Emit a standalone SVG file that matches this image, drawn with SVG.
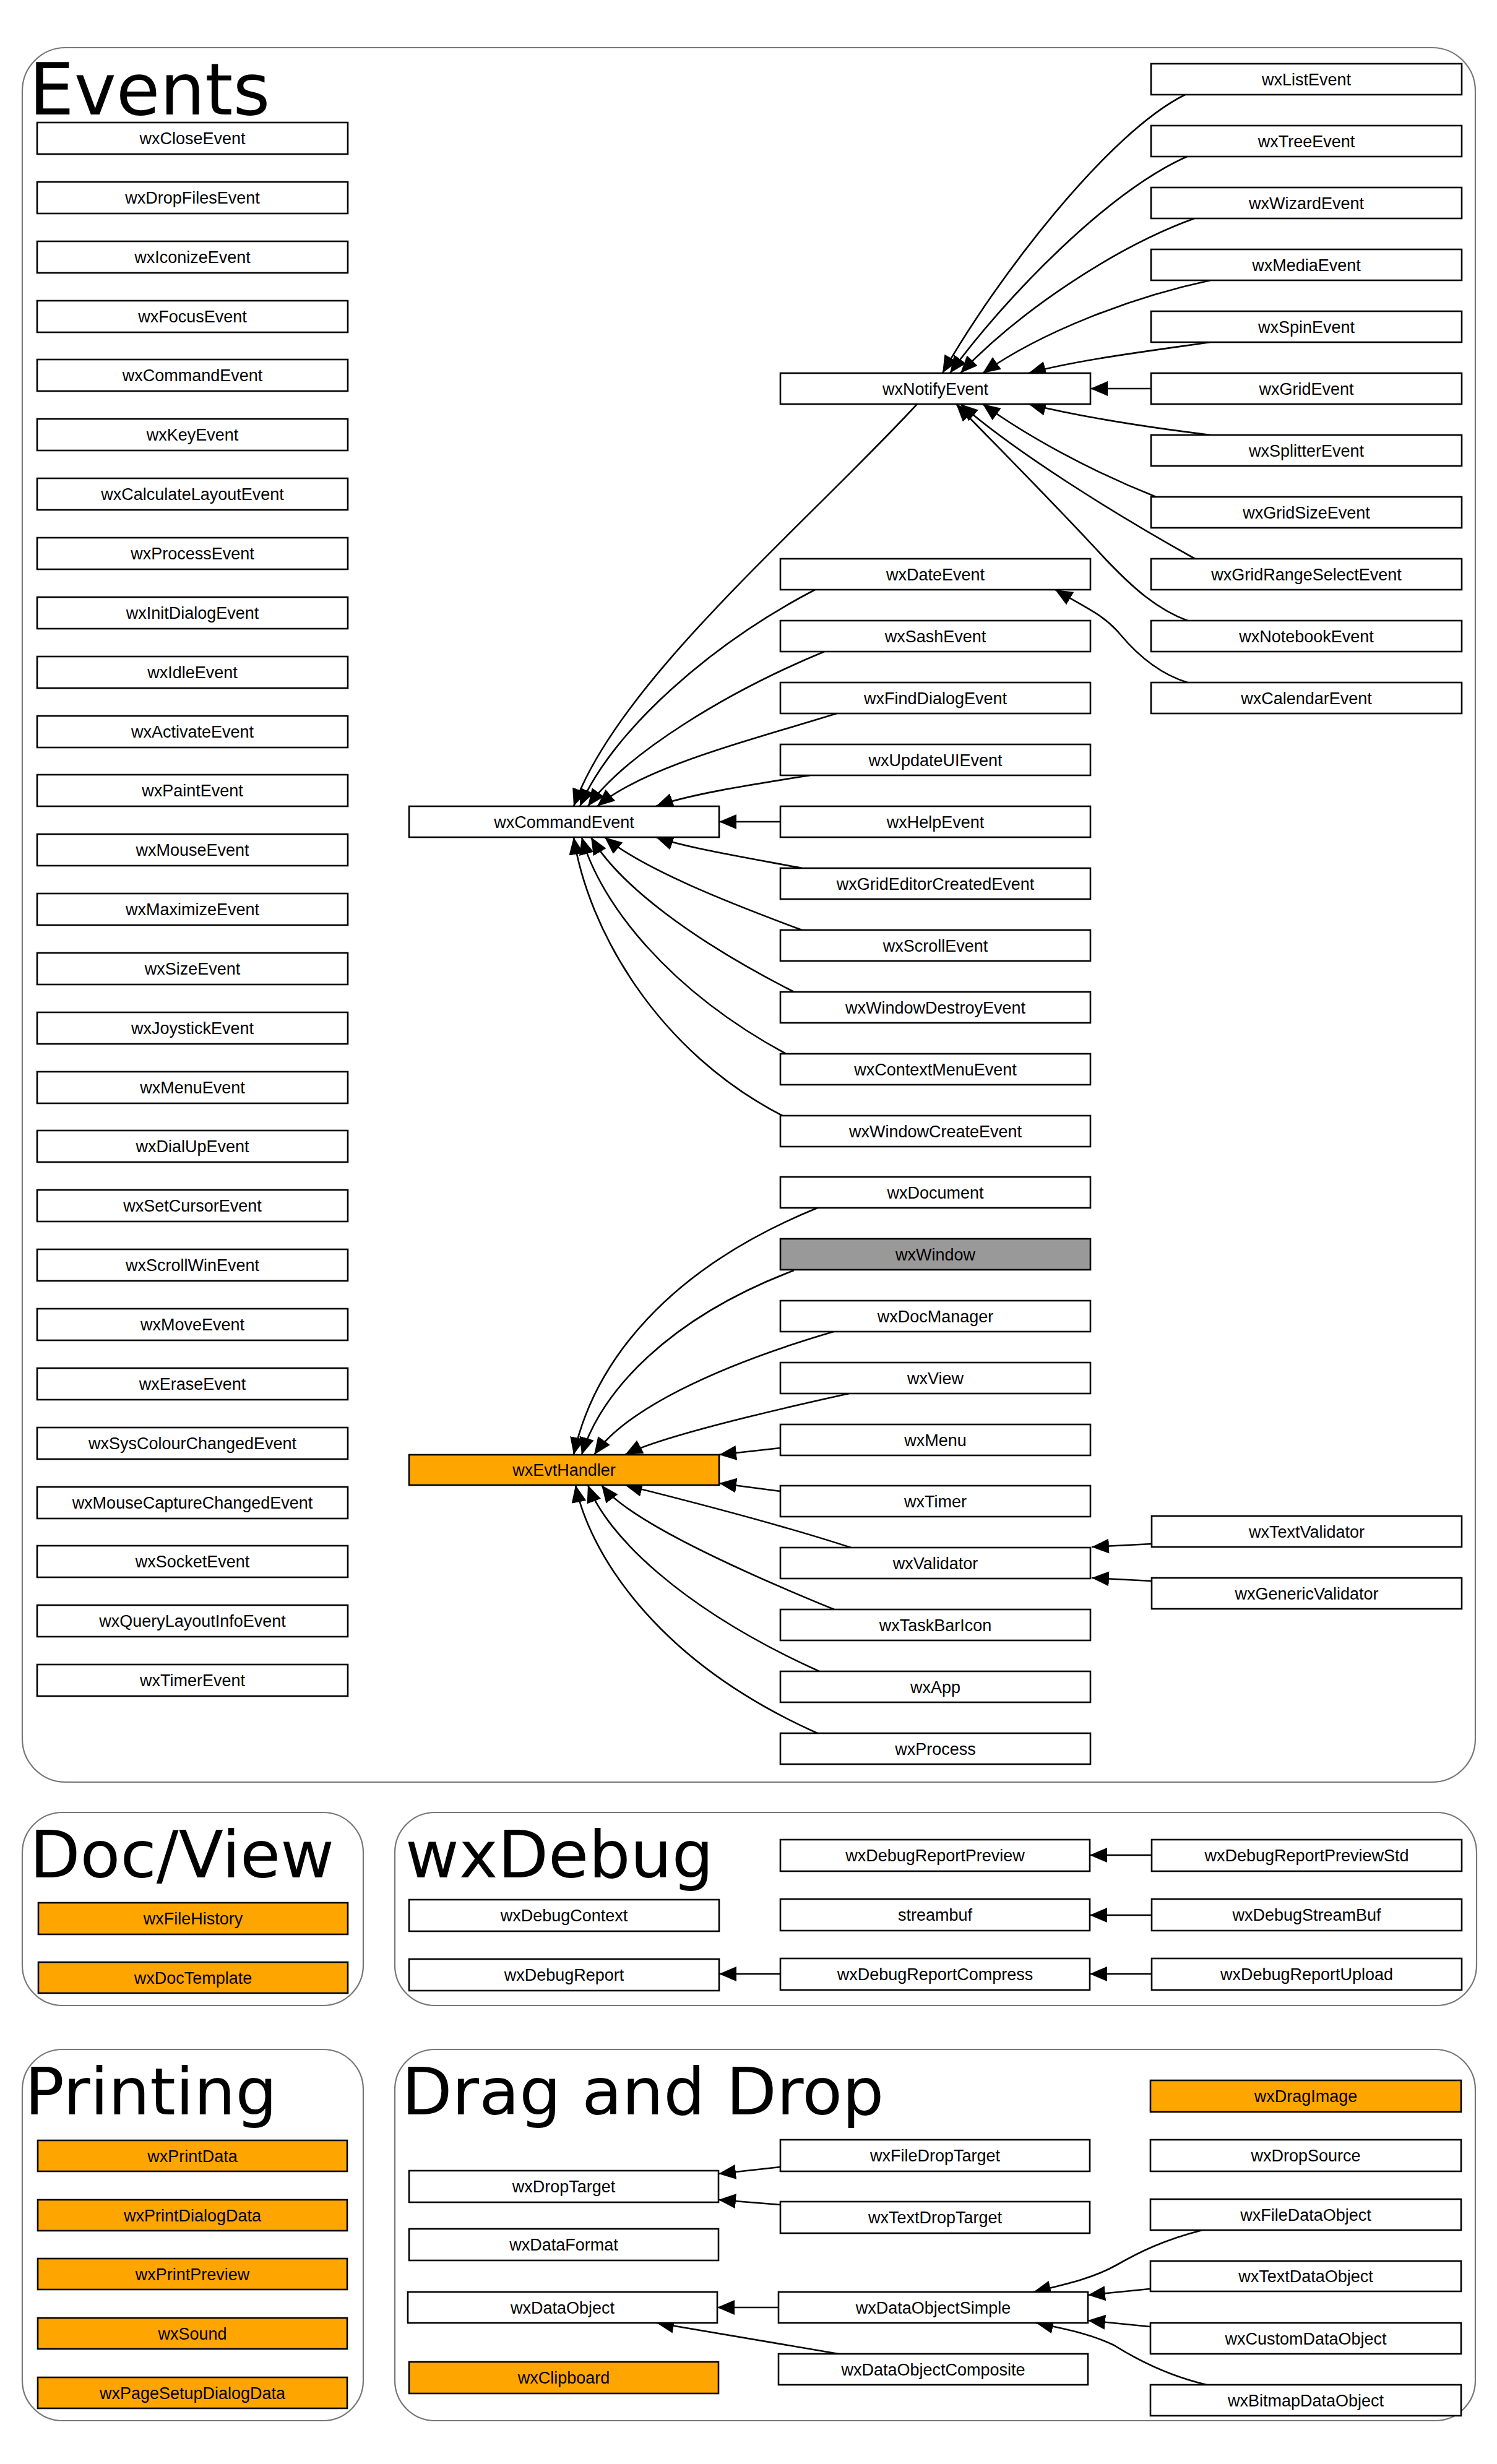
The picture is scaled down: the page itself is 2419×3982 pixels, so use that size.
<svg xmlns="http://www.w3.org/2000/svg" width="2419" height="3982" viewBox="0 0 2419 3982">
<style>
.bg{fill:#fff}
.panel{fill:#fff;stroke:#777;stroke-width:2.2}
.title{font-family:"DejaVu Sans",Verdana,sans-serif;font-size:106px;fill:#000}
.n rect{fill:#fff;stroke:#000;stroke-width:2.6}
.n.o rect{fill:#ffa500}
.n.g rect{fill:#999}
.n text{font-family:"Liberation Sans",Arial,Helvetica,sans-serif;font-size:27px;text-anchor:middle;fill:#000}
#edges path{fill:none;stroke:#000;stroke-width:2.6;marker-end:url(#ah)}
</style>
<defs>
<marker id="ah" markerUnits="userSpaceOnUse" markerWidth="30" markerHeight="26" refX="28" refY="12" orient="auto">
<path d="M0,0 L28,12 L0,24 z" fill="#000"/>
</marker>
</defs>
<rect class="bg" x="0" y="0" width="2419" height="3982"/>

<g id="panels">
<rect class="panel" x="36" y="77" width="2348" height="2803" rx="70" ry="70"/>
<rect class="panel" x="36" y="2929" width="551" height="312" rx="65" ry="65"/>
<rect class="panel" x="638" y="2929" width="1748" height="312" rx="65" ry="65"/>
<rect class="panel" x="36" y="3312" width="551" height="600" rx="65" ry="65"/>
<rect class="panel" x="638" y="3312" width="1746" height="600" rx="65" ry="65"/>
<text class="title" x="47" y="185" style="font-size:115px">Events</text>
<text class="title" x="48" y="3034">Doc/View</text>
<text class="title" x="655" y="3034">wxDebug</text>
<text class="title" x="40" y="3417">Printing</text>
<text class="title" x="649" y="3417">Drag and Drop</text>
</g>

<g id="edges">
<path d="M1915,153 C1790,215 1610,450 1523,603"/>
<path d="M1918,253 C1790,310 1625,480 1535,603"/>
<path d="M1930,353 C1800,400 1645,505 1552,603"/>
<path d="M1956,453 C1830,480 1685,535 1588,603"/>
<path d="M1956,553 C1850,568 1740,582 1662,603"/>
<path d="M1860,628 L1762,628"/>
<path d="M1956,703 C1850,690 1740,672 1662,653"/>
<path d="M1868,803 C1760,760 1660,705 1588,653"/>
<path d="M1931,903 C1800,830 1640,730 1552,653"/>
<path d="M1919,1003 C1870,985 1830,950 1783,900 C1700,810 1610,720 1545,653"/>
<path d="M1919,1103 C1870,1088 1835,1055 1810,1025 C1785,995 1760,985 1705,953"/>
<path d="M1482,653 C1300,850 1000,1100 927,1303"/>
<path d="M1317,953 C1150,1040 990,1180 937,1303"/>
<path d="M1332,1053 C1170,1120 1010,1220 950,1303"/>
<path d="M1352,1153 C1200,1200 1040,1240 965,1303"/>
<path d="M1309,1253 C1200,1270 1110,1285 1060,1303"/>
<path d="M1261,1328 L1162,1328"/>
<path d="M1296,1403 C1200,1385 1110,1370 1060,1353"/>
<path d="M1296,1503 C1180,1460 1040,1405 977,1353"/>
<path d="M1283,1603 C1120,1520 1000,1430 955,1353"/>
<path d="M1270,1703 C1080,1600 970,1460 940,1353"/>
<path d="M1270,1806 C1060,1700 950,1500 927,1353"/>
<path d="M1321,1952 C1080,2050 960,2200 927,2351"/>
<path d="M1283,2053 C1080,2130 970,2250 940,2351"/>
<path d="M1347,2152 C1150,2210 1010,2280 960,2351"/>
<path d="M1372,2252 C1200,2290 1060,2325 1010,2351"/>
<path d="M1261,2340 L1162,2351"/>
<path d="M1261,2410 L1162,2397"/>
<path d="M1375,2501 C1250,2460 1090,2420 1010,2400"/>
<path d="M1348,2601 C1150,2520 1010,2450 972,2400"/>
<path d="M1324,2701 C1100,2600 980,2480 950,2400"/>
<path d="M1321,2801 C1050,2680 950,2500 930,2400"/>
<path d="M1861,2495 L1764,2500"/>
<path d="M1861,2555 L1764,2550"/>
<path d="M1861,2998 L1761,2998"/>
<path d="M1861,3095 L1761,3095"/>
<path d="M1861,3190 L1761,3190"/>
<path d="M1261,3190 L1162,3190"/>
<path d="M1261,3502 L1161,3513"/>
<path d="M1261,3563 L1161,3555"/>
<path d="M1258,3729 L1159,3729"/>
<path d="M1355,3804 L1061,3754"/>
<path d="M1943,3604 C1880,3620 1840,3640 1805,3660 C1770,3680 1730,3690 1670,3704"/>
<path d="M1858,3699 L1758,3709"/>
<path d="M1858,3760 L1758,3750"/>
<path d="M1950,3854 C1890,3840 1840,3815 1800,3790 C1770,3775 1730,3765 1674,3754"/>
</g>

<g id="wxCloseEvent" class="n"><rect x="60" y="198" width="502" height="51"/><text x="311" y="233">wxCloseEvent</text></g>
<g id="wxDropFilesEvent" class="n"><rect x="60" y="294" width="502" height="51"/><text x="311" y="329">wxDropFilesEvent</text></g>
<g id="wxIconizeEvent" class="n"><rect x="60" y="390" width="502" height="51"/><text x="311" y="425">wxIconizeEvent</text></g>
<g id="wxFocusEvent" class="n"><rect x="60" y="486" width="502" height="51"/><text x="311" y="521">wxFocusEvent</text></g>
<g id="wxCommandEvent_l" class="n"><rect x="60" y="581" width="502" height="51"/><text x="311" y="616">wxCommandEvent</text></g>
<g id="wxKeyEvent" class="n"><rect x="60" y="677" width="502" height="51"/><text x="311" y="712">wxKeyEvent</text></g>
<g id="wxCalculateLayoutEvent" class="n"><rect x="60" y="773" width="502" height="51"/><text x="311" y="808">wxCalculateLayoutEvent</text></g>
<g id="wxProcessEvent" class="n"><rect x="60" y="869" width="502" height="51"/><text x="311" y="904">wxProcessEvent</text></g>
<g id="wxInitDialogEvent" class="n"><rect x="60" y="965" width="502" height="51"/><text x="311" y="1000">wxInitDialogEvent</text></g>
<g id="wxIdleEvent" class="n"><rect x="60" y="1061" width="502" height="51"/><text x="311" y="1096">wxIdleEvent</text></g>
<g id="wxActivateEvent" class="n"><rect x="60" y="1157" width="502" height="51"/><text x="311" y="1192">wxActivateEvent</text></g>
<g id="wxPaintEvent" class="n"><rect x="60" y="1252" width="502" height="51"/><text x="311" y="1287">wxPaintEvent</text></g>
<g id="wxMouseEvent" class="n"><rect x="60" y="1348" width="502" height="51"/><text x="311" y="1383">wxMouseEvent</text></g>
<g id="wxMaximizeEvent" class="n"><rect x="60" y="1444" width="502" height="51"/><text x="311" y="1479">wxMaximizeEvent</text></g>
<g id="wxSizeEvent" class="n"><rect x="60" y="1540" width="502" height="51"/><text x="311" y="1575">wxSizeEvent</text></g>
<g id="wxJoystickEvent" class="n"><rect x="60" y="1636" width="502" height="51"/><text x="311" y="1671">wxJoystickEvent</text></g>
<g id="wxMenuEvent" class="n"><rect x="60" y="1732" width="502" height="51"/><text x="311" y="1767">wxMenuEvent</text></g>
<g id="wxDialUpEvent" class="n"><rect x="60" y="1827" width="502" height="51"/><text x="311" y="1862">wxDialUpEvent</text></g>
<g id="wxSetCursorEvent" class="n"><rect x="60" y="1923" width="502" height="51"/><text x="311" y="1958">wxSetCursorEvent</text></g>
<g id="wxScrollWinEvent" class="n"><rect x="60" y="2019" width="502" height="51"/><text x="311" y="2054">wxScrollWinEvent</text></g>
<g id="wxMoveEvent" class="n"><rect x="60" y="2115" width="502" height="51"/><text x="311" y="2150">wxMoveEvent</text></g>
<g id="wxEraseEvent" class="n"><rect x="60" y="2211" width="502" height="51"/><text x="311" y="2246">wxEraseEvent</text></g>
<g id="wxSysColourChangedEvent" class="n"><rect x="60" y="2307" width="502" height="51"/><text x="311" y="2342">wxSysColourChangedEvent</text></g>
<g id="wxMouseCaptureChangedEvent" class="n"><rect x="60" y="2403" width="502" height="51"/><text x="311" y="2438">wxMouseCaptureChangedEvent</text></g>
<g id="wxSocketEvent" class="n"><rect x="60" y="2498" width="502" height="51"/><text x="311" y="2533">wxSocketEvent</text></g>
<g id="wxQueryLayoutInfoEvent" class="n"><rect x="60" y="2594" width="502" height="51"/><text x="311" y="2629">wxQueryLayoutInfoEvent</text></g>
<g id="wxTimerEvent" class="n"><rect x="60" y="2690" width="502" height="51"/><text x="311" y="2725">wxTimerEvent</text></g>

<g id="wxCommandEvent" class="n"><rect x="661" y="1303" width="501" height="50"/><text x="911.5" y="1337.5">wxCommandEvent</text></g>
<g id="wxEvtHandler" class="n o"><rect x="661" y="2351" width="501" height="49"/><text x="911.5" y="2385">wxEvtHandler</text></g>

<g id="wxNotifyEvent" class="n"><rect x="1261" y="603" width="501" height="50"/><text x="1511.5" y="637.5">wxNotifyEvent</text></g>
<g id="wxDateEvent" class="n"><rect x="1261" y="903" width="501" height="50"/><text x="1511.5" y="937.5">wxDateEvent</text></g>
<g id="wxSashEvent" class="n"><rect x="1261" y="1003" width="501" height="50"/><text x="1511.5" y="1037.5">wxSashEvent</text></g>
<g id="wxFindDialogEvent" class="n"><rect x="1261" y="1103" width="501" height="50"/><text x="1511.5" y="1137.5">wxFindDialogEvent</text></g>
<g id="wxUpdateUIEvent" class="n"><rect x="1261" y="1203" width="501" height="50"/><text x="1511.5" y="1237.5">wxUpdateUIEvent</text></g>
<g id="wxHelpEvent" class="n"><rect x="1261" y="1303" width="501" height="50"/><text x="1511.5" y="1337.5">wxHelpEvent</text></g>
<g id="wxGridEditorCreatedEvent" class="n"><rect x="1261" y="1403" width="501" height="50"/><text x="1511.5" y="1437.5">wxGridEditorCreatedEvent</text></g>
<g id="wxScrollEvent" class="n"><rect x="1261" y="1503" width="501" height="50"/><text x="1511.5" y="1537.5">wxScrollEvent</text></g>
<g id="wxWindowDestroyEvent" class="n"><rect x="1261" y="1603" width="501" height="50"/><text x="1511.5" y="1637.5">wxWindowDestroyEvent</text></g>
<g id="wxContextMenuEvent" class="n"><rect x="1261" y="1703" width="501" height="50"/><text x="1511.5" y="1737.5">wxContextMenuEvent</text></g>
<g id="wxWindowCreateEvent" class="n"><rect x="1261" y="1803" width="501" height="50"/><text x="1511.5" y="1837.5">wxWindowCreateEvent</text></g>
<g id="wxDocument" class="n"><rect x="1261" y="1902" width="501" height="50"/><text x="1511.5" y="1936.5">wxDocument</text></g>
<g id="wxWindow" class="n g"><rect x="1261" y="2002" width="501" height="50"/><text x="1511.5" y="2036.5">wxWindow</text></g>
<g id="wxDocManager" class="n"><rect x="1261" y="2102" width="501" height="50"/><text x="1511.5" y="2136.5">wxDocManager</text></g>
<g id="wxView" class="n"><rect x="1261" y="2202" width="501" height="50"/><text x="1511.5" y="2236.5">wxView</text></g>
<g id="wxMenu" class="n"><rect x="1261" y="2302" width="501" height="50"/><text x="1511.5" y="2336.5">wxMenu</text></g>
<g id="wxTimer" class="n"><rect x="1261" y="2401" width="501" height="50"/><text x="1511.5" y="2435.5">wxTimer</text></g>
<g id="wxValidator" class="n"><rect x="1261" y="2501" width="501" height="50"/><text x="1511.5" y="2535.5">wxValidator</text></g>
<g id="wxTaskBarIcon" class="n"><rect x="1261" y="2601" width="501" height="50"/><text x="1511.5" y="2635.5">wxTaskBarIcon</text></g>
<g id="wxApp" class="n"><rect x="1261" y="2701" width="501" height="50"/><text x="1511.5" y="2735.5">wxApp</text></g>
<g id="wxProcess" class="n"><rect x="1261" y="2801" width="501" height="50"/><text x="1511.5" y="2835.5">wxProcess</text></g>

<g id="wxListEvent" class="n"><rect x="1860" y="103" width="502" height="50"/><text x="2111" y="137.5">wxListEvent</text></g>
<g id="wxTreeEvent" class="n"><rect x="1860" y="203" width="502" height="50"/><text x="2111" y="237.5">wxTreeEvent</text></g>
<g id="wxWizardEvent" class="n"><rect x="1860" y="303" width="502" height="50"/><text x="2111" y="337.5">wxWizardEvent</text></g>
<g id="wxMediaEvent" class="n"><rect x="1860" y="403" width="502" height="50"/><text x="2111" y="437.5">wxMediaEvent</text></g>
<g id="wxSpinEvent" class="n"><rect x="1860" y="503" width="502" height="50"/><text x="2111" y="537.5">wxSpinEvent</text></g>
<g id="wxGridEvent" class="n"><rect x="1860" y="603" width="502" height="50"/><text x="2111" y="637.5">wxGridEvent</text></g>
<g id="wxSplitterEvent" class="n"><rect x="1860" y="703" width="502" height="50"/><text x="2111" y="737.5">wxSplitterEvent</text></g>
<g id="wxGridSizeEvent" class="n"><rect x="1860" y="803" width="502" height="50"/><text x="2111" y="837.5">wxGridSizeEvent</text></g>
<g id="wxGridRangeSelectEvent" class="n"><rect x="1860" y="903" width="502" height="50"/><text x="2111" y="937.5">wxGridRangeSelectEvent</text></g>
<g id="wxNotebookEvent" class="n"><rect x="1860" y="1003" width="502" height="50"/><text x="2111" y="1037.5">wxNotebookEvent</text></g>
<g id="wxCalendarEvent" class="n"><rect x="1860" y="1103" width="502" height="50"/><text x="2111" y="1137.5">wxCalendarEvent</text></g>
<g id="wxTextValidator" class="n"><rect x="1861" y="2450" width="501" height="50"/><text x="2111.5" y="2484.5">wxTextValidator</text></g>
<g id="wxGenericValidator" class="n"><rect x="1861" y="2550" width="501" height="50"/><text x="2111.5" y="2584.5">wxGenericValidator</text></g>

<g id="wxFileHistory" class="n o"><rect x="62" y="3075" width="500" height="51"/><text x="312" y="3110">wxFileHistory</text></g>
<g id="wxDocTemplate" class="n o"><rect x="62" y="3171" width="500" height="50"/><text x="312" y="3205.5">wxDocTemplate</text></g>

<g id="wxDebugContext" class="n"><rect x="661" y="3070" width="501" height="51"/><text x="911.5" y="3105">wxDebugContext</text></g>
<g id="wxDebugReport" class="n"><rect x="661" y="3166" width="501" height="51"/><text x="911.5" y="3201">wxDebugReport</text></g>
<g id="wxDebugReportPreview" class="n"><rect x="1261" y="2973" width="500" height="51"/><text x="1511" y="3008">wxDebugReportPreview</text></g>
<g id="streambuf" class="n"><rect x="1261" y="3069" width="500" height="51"/><text x="1511" y="3104">streambuf</text></g>
<g id="wxDebugReportCompress" class="n"><rect x="1261" y="3165" width="500" height="51"/><text x="1511" y="3200">wxDebugReportCompress</text></g>
<g id="wxDebugReportPreviewStd" class="n"><rect x="1861" y="2973" width="501" height="51"/><text x="2111.5" y="3008">wxDebugReportPreviewStd</text></g>
<g id="wxDebugStreamBuf" class="n"><rect x="1861" y="3069" width="501" height="51"/><text x="2111.5" y="3104">wxDebugStreamBuf</text></g>
<g id="wxDebugReportUpload" class="n"><rect x="1861" y="3165" width="501" height="51"/><text x="2111.5" y="3200">wxDebugReportUpload</text></g>

<g id="wxPrintData" class="n o"><rect x="61" y="3459" width="500" height="50"/><text x="311" y="3493.5">wxPrintData</text></g>
<g id="wxPrintDialogData" class="n o"><rect x="61" y="3555" width="500" height="50"/><text x="311" y="3589.5">wxPrintDialogData</text></g>
<g id="wxPrintPreview" class="n o"><rect x="61" y="3650" width="500" height="50"/><text x="311" y="3684.5">wxPrintPreview</text></g>
<g id="wxSound" class="n o"><rect x="61" y="3746" width="500" height="50"/><text x="311" y="3780.5">wxSound</text></g>
<g id="wxPageSetupDialogData" class="n o"><rect x="61" y="3842" width="500" height="50"/><text x="311" y="3876.5">wxPageSetupDialogData</text></g>

<g id="wxDropTarget" class="n"><rect x="661" y="3508" width="500" height="51"/><text x="911" y="3543">wxDropTarget</text></g>
<g id="wxDataFormat" class="n"><rect x="661" y="3602" width="500" height="51"/><text x="911" y="3637">wxDataFormat</text></g>
<g id="wxDataObject" class="n"><rect x="659" y="3704" width="500" height="50"/><text x="909" y="3738.5">wxDataObject</text></g>
<g id="wxClipboard" class="n o"><rect x="661" y="3817" width="500" height="51"/><text x="911" y="3852">wxClipboard</text></g>
<g id="wxFileDropTarget" class="n"><rect x="1261" y="3458" width="500" height="51"/><text x="1511" y="3493">wxFileDropTarget</text></g>
<g id="wxTextDropTarget" class="n"><rect x="1261" y="3558" width="500" height="51"/><text x="1511" y="3593">wxTextDropTarget</text></g>
<g id="wxDataObjectSimple" class="n"><rect x="1258" y="3704" width="500" height="50"/><text x="1508" y="3738.5">wxDataObjectSimple</text></g>
<g id="wxDataObjectComposite" class="n"><rect x="1258" y="3804" width="500" height="50"/><text x="1508" y="3838.5">wxDataObjectComposite</text></g>
<g id="wxDragImage" class="n o"><rect x="1859" y="3362" width="502" height="51"/><text x="2110" y="3397">wxDragImage</text></g>
<g id="wxDropSource" class="n"><rect x="1859" y="3458" width="502" height="51"/><text x="2110" y="3493">wxDropSource</text></g>
<g id="wxFileDataObject" class="n"><rect x="1859" y="3554" width="502" height="50"/><text x="2110" y="3588.5">wxFileDataObject</text></g>
<g id="wxTextDataObject" class="n"><rect x="1859" y="3654" width="502" height="49"/><text x="2110" y="3688">wxTextDataObject</text></g>
<g id="wxCustomDataObject" class="n"><rect x="1859" y="3754" width="502" height="50"/><text x="2110" y="3788.5">wxCustomDataObject</text></g>
<g id="wxBitmapDataObject" class="n"><rect x="1859" y="3854" width="502" height="50"/><text x="2110" y="3888.5">wxBitmapDataObject</text></g>
</svg>
